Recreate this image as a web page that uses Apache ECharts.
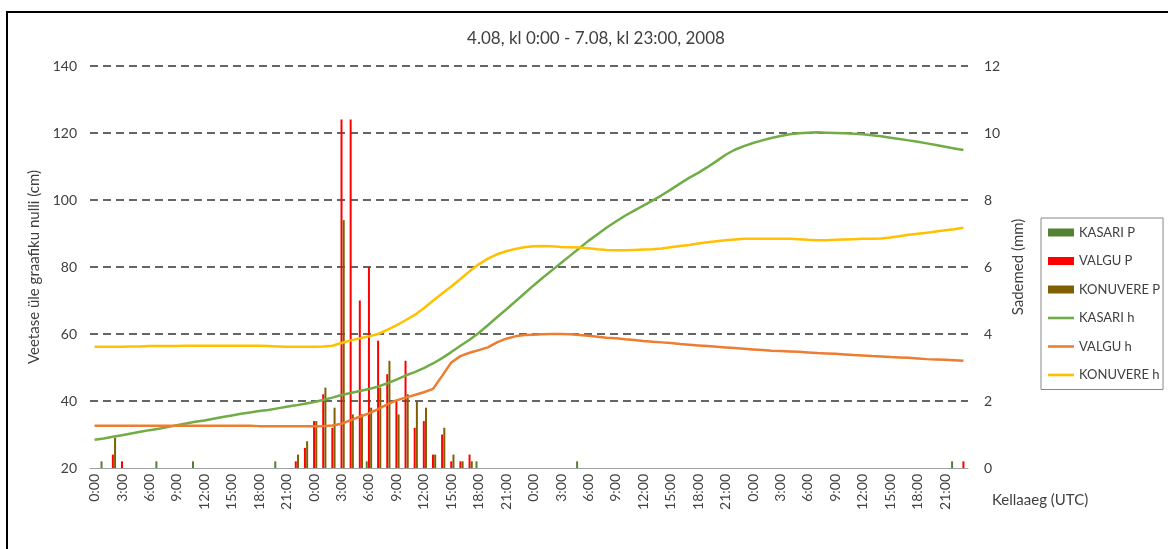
<!DOCTYPE html>
<html><head><meta charset="utf-8">
<script src="https://cdn.jsdelivr.net/npm/echarts@6/dist/echarts.min.js"></script>
<style>html,body{margin:0;padding:0;background:#fff}#c{width:1168px;height:549px}</style>
</head><body><div id="c"></div>
<script>
const chartTitle = '4.08, kl 0:00 - 7.08, kl 23:00, 2008';
const days = ['4.08', '5.08', '6.08', '7.08'];
const hourLabels = ['0:00','1:00','2:00','3:00','4:00','5:00','6:00','7:00','8:00','9:00','10:00','11:00',
  '12:00','13:00','14:00','15:00','16:00','17:00','18:00','19:00','20:00','21:00','22:00','23:00'];
const leftTicks = [20, 140, 20];   // min, max, step (cm)
const rightTicks = [0, 12, 2];     // min, max, step (mm)

// Precipitation (mm), hourly, 4 days
const kasariP = [
  0,0.2,0,0,0,0,0,0.2,0,0,0,0.2,0,0,0,0,0,0,0,0,0.2,0,0,0,
  0,0,0,0,0,0,0.2,0,0,0,0,0,0,0,0,0,0,0,0.2,0,0,0,0,0,
  0,0,0,0,0,0.2,0,0,0,0,0,0,0,0,0,0,0,0,0,0,0,0,0,0,
  0,0,0,0,0,0,0,0,0,0,0,0,0,0,0,0,0,0,0,0,0,0,0.2,0
];
const valguP = [
  0,0,0.4,0.2,0,0,0,0,0,0,0,0,0,0,0,0,0,0,0,0,0,0,0.2,0.6,
  1.4,2.2,1.2,10.4,10.4,5.0,6.0,3.8,2.8,2.0,3.2,1.2,1.4,0.4,1.0,0.2,0.2,0.4,0,0,0,0,0,0,
  0,0,0,0,0,0,0,0,0,0,0,0,0,0,0,0,0,0,0,0,0,0,0,0,
  0,0,0,0,0,0,0,0,0,0,0,0,0,0,0,0,0,0,0,0,0,0,0,0.2
];
const konuvereP = [
  0,0,0.9,0,0,0,0,0,0,0,0,0,0,0,0,0,0,0,0,0,0,0,0.4,0.8,
  1.4,2.4,1.8,7.4,1.6,1.6,1.8,2.4,3.2,1.6,2.2,2.0,1.8,0.4,1.2,0.4,0.2,0.2,0,0,0,0,0,0,
  0,0,0,0,0,0,0,0,0,0,0,0,0,0,0,0,0,0,0,0,0,0,0,0,
  0,0,0,0,0,0,0,0,0,0,0,0,0,0,0,0,0,0,0,0,0,0,0,0
];
// Water level (cm)
const kasariH = [
  28.4,28.8,29.3,29.8,30.3,30.8,31.3,31.7,32.2,32.8,33.3,33.8,34.2,34.7,35.2,35.7,36.2,36.6,37.0,37.3,37.8,38.3,38.7,39.2,
  39.7,40.3,41.0,41.8,42.4,43.0,43.6,44.3,45.3,46.4,47.6,48.6,49.8,51.2,52.8,54.6,56.5,58.3,60.3,62.6,65.0,67.3,69.7,72.1,
  74.5,76.8,79.0,81.2,83.4,85.6,87.8,89.8,91.8,93.6,95.3,96.8,98.3,99.8,101.4,103.1,104.9,106.6,108.1,109.8,111.6,113.5,115.0,116.1,
  117.0,117.8,118.5,119.1,119.6,119.9,120.1,120.2,120.1,120.0,119.9,119.8,119.6,119.3,119.0,118.6,118.2,117.8,117.4,116.9,116.4,115.9,115.4,114.9
];
const valguH = [
  32.6,32.6,32.6,32.6,32.6,32.6,32.6,32.6,32.6,32.6,32.6,32.6,32.6,32.6,32.6,32.6,32.6,32.6,32.5,32.5,32.5,32.5,32.5,32.5,
  32.5,32.5,32.7,33.2,34.3,35.3,36.3,37.6,39.0,40.2,41.0,41.8,42.6,43.6,47.5,51.5,53.4,54.4,55.2,56.0,57.5,58.6,59.3,59.7,
  59.8,59.9,60.0,60.0,59.9,59.7,59.5,59.2,58.9,58.7,58.4,58.2,57.9,57.7,57.5,57.3,57.0,56.8,56.6,56.4,56.2,56.0,55.8,55.6,
  55.4,55.2,55.0,54.9,54.8,54.7,54.5,54.3,54.2,54.1,53.9,53.7,53.6,53.4,53.3,53.1,53.0,52.9,52.7,52.5,52.4,52.3,52.2,52.0
];
const konuvereH = [
  56.2,56.2,56.2,56.2,56.3,56.3,56.4,56.4,56.4,56.4,56.5,56.5,56.5,56.5,56.5,56.5,56.5,56.5,56.5,56.4,56.3,56.2,56.2,56.2,
  56.2,56.3,56.5,57.3,58.1,58.7,59.3,60.0,61.2,62.6,64.1,65.7,67.7,69.9,72.1,74.2,76.4,78.7,80.8,82.5,83.8,84.7,85.4,85.9,
  86.2,86.3,86.2,86.0,85.9,85.8,85.6,85.3,85.1,85.0,85.0,85.1,85.2,85.3,85.5,85.9,86.3,86.6,87.0,87.4,87.7,88.0,88.2,88.4,
  88.4,88.4,88.4,88.4,88.4,88.3,88.1,88.0,88.0,88.1,88.2,88.3,88.4,88.4,88.5,88.8,89.2,89.6,89.9,90.2,90.6,91.0,91.3,91.7
];

const categories = [];
days.forEach(d => hourLabels.forEach(h => categories.push(d + ' ' + h)));

const FONT = 'Lato';
const TXT = '#404040';
const LINE_ICON = 'path://M0,0H26V2.6H0Z';
const chart = echarts.init(document.getElementById('c'), null, {renderer: 'canvas'});
const barBase = {type: 'bar', yAxisIndex: 1, barWidth: 2, barGap: '10%'};
const lineBase = {type: 'line', yAxisIndex: 0, symbol: 'none', showSymbol: false};

chart.setOption({
  animation: false,
  textStyle: {fontFamily: FONT},
  title: {
    text: chartTitle, left: 591, top: 25, textAlign: 'center',
    textStyle: {fontSize: 17, fontWeight: 'normal', color: TXT, fontFamily: FONT}
  },
  grid: {left: 90, right: 200, top: 66, bottom: 81, containLabel: false},
  legend: {
    orient: 'vertical', left: 1041, top: 218, padding: [8, 3, 8, 7], itemGap: 15.5,
    itemWidth: 26, itemHeight: 8, borderColor: '#888', borderWidth: 1,
    symbolKeepAspect: true,
    textStyle: {fontSize: 13, color: TXT, fontFamily: FONT},
    data: [
      {name: 'KASARI P', icon: 'rect'},
      {name: 'VALGU P', icon: 'rect'},
      {name: 'KONUVERE P', icon: 'rect'},
      {name: 'KASARI h', icon: LINE_ICON},
      {name: 'VALGU h', icon: LINE_ICON},
      {name: 'KONUVERE h', icon: LINE_ICON}
    ]
  },
  xAxis: {
    type: 'category', data: categories, boundaryGap: true,
    axisLine: {lineStyle: {color: '#a0a0a0', width: 1}},
    axisTick: {interval: 0, length: 5, lineStyle: {color: '#a0a0a0'}},
    axisLabel: {interval: 2, rotate: 90, fontSize: 14, color: TXT, margin: 6, fontFamily: FONT,
      formatter: v => v.split(' ')[1]},
    splitLine: {show: false}
  },
  yAxis: [
    {
      type: 'value', min: leftTicks[0], max: leftTicks[1], interval: leftTicks[2],
      name: 'Veetase üle graafiku nulli (cm)', nameLocation: 'middle', nameGap: 47, nameRotate: 90,
      nameTextStyle: {fontSize: 15, color: TXT, fontFamily: FONT},
      axisLine: {show: false}, axisTick: {show: false},
      axisLabel: {fontSize: 14, color: TXT, margin: 13, fontFamily: FONT},
      splitLine: {show: true, showMinLine: false, lineStyle: {type: [8, 5], color: '#333', width: 1.5}}
    },
    {
      type: 'value', min: rightTicks[0], max: rightTicks[1], interval: rightTicks[2], position: 'right',
      name: 'Sademed (mm)', nameLocation: 'middle', nameGap: 39, nameRotate: 90,
      nameTextStyle: {fontSize: 15, color: TXT, fontFamily: FONT},
      axisLine: {show: false}, axisTick: {show: false},
      axisLabel: {fontSize: 14, color: TXT, margin: 16, fontFamily: FONT},
      splitLine: {show: false}
    }
  ],
  series: [
    Object.assign({name: 'KASARI P', data: kasariP, itemStyle: {color: '#548235'}}, barBase),
    Object.assign({name: 'VALGU P', data: valguP, itemStyle: {color: '#ff0000'}}, barBase),
    Object.assign({name: 'KONUVERE P', data: konuvereP, itemStyle: {color: '#7f6000'}}, barBase),
    Object.assign({name: 'KASARI h', data: kasariH, itemStyle: {color: '#70ad47'}}, lineBase, {lineStyle: {width: 2.5, color: '#70ad47'}}),
    Object.assign({name: 'VALGU h', data: valguH, itemStyle: {color: '#ed7d31'}}, lineBase, {lineStyle: {width: 2.5, color: '#ed7d31'}}),
    Object.assign({name: 'KONUVERE h', data: konuvereH, itemStyle: {color: '#ffc000'}}, lineBase, {lineStyle: {width: 2.5, color: '#ffc000'}})
  ],
  graphic: [
    {type: 'rect', silent: true, z: -10, shape: {x: 7, y: 12, width: 1200, height: 600},
      style: {fill: 'none', stroke: '#000', lineWidth: 2}},
    {type: 'text', silent: true, x: 992, y: 493,
      style: {text: 'Kellaaeg (UTC)', font: '15px Lato', fill: TXT}}
  ]
});
</script>
</body></html>
